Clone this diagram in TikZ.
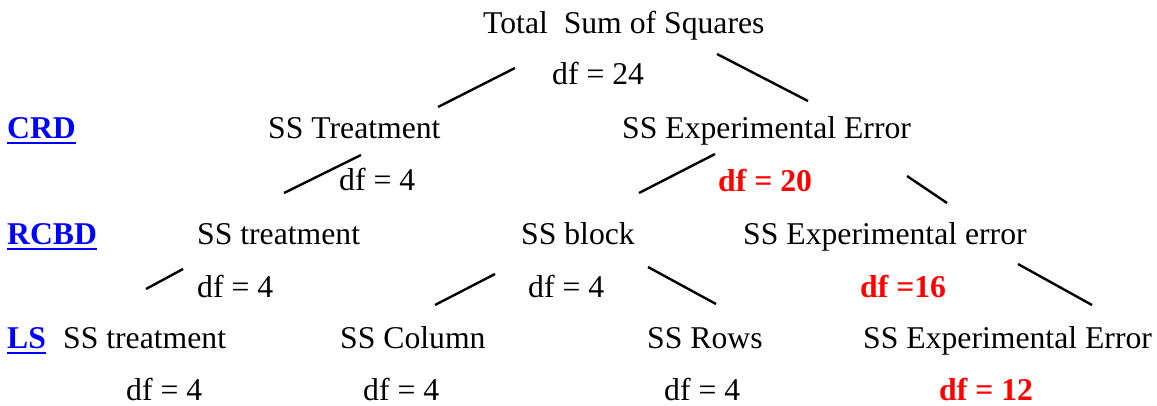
\documentclass[tikz,border=0pt]{standalone}
\usepackage{fontspec}
\setmainfont{Liberation Serif}
\usetikzlibrary{positioning}

\begin{document}
\begin{tikzpicture}[
	x=1pt, y=-1pt,
	every node/.style={inner sep=0pt, anchor=base west, font=\fontsize{31.7}{38}\selectfont},
	design/.style={text=blue, font=\fontsize{31.7}{38}\selectfont\bfseries},
	errdf/.style={text=red, font=\fontsize{31.7}{38}\selectfont\bfseries},
	branch/.style={line width=2.4pt, draw=black}
]
\useasboundingbox (0,0) rectangle (1157,405);
% total
\node (total) at (483,33) {Total\ \ Sum of Squares};
\node (dftotal) at (552,84) {df = 24};
% CRD
\node (crd) [design] at (7,138) {CRD};
\node (crdtrt) at (268,138) {SS Treatment};
\node (crderr) at (622,138) {SS Experimental Error};
\node (crddftrt) at (339,190) {df = 4};
\node (crddferr) [errdf] at (718,191) {df = 20};
% RCBD
\node (rcbd) [design] at (7,244) {RCBD};
\node (rcbdtrt) at (197,244) {SS treatment};
\node (rcbdblk) at (521,244) {SS block};
\node (rcbderr) at (743,244) {SS Experimental error};
\node (rcbddftrt) at (197,297) {df = 4};
\node (rcbddfblk) at (528,297) {df = 4};
\node (rcbddferr) [errdf] at (860,297) {df =16};
% LS
\node (ls) [design] at (7,348) {LS};
\node (lstrt) at (63,348) {SS treatment};
\node (lscol) at (340,348) {SS Column};
\node (lsrow) at (647,348) {SS Rows};
\node (lserr) at (863,348) {SS Experimental Error};
\node (lsdftrt) at (126,400) {df = 4};
\node (lsdfcol) at (363,400) {df = 4};
\node (lsdfrow) at (664,400) {df = 4};
\node (lsdferr) [errdf] at (939,400) {df = 12};
% underlined design names
\foreach \d in {crd,rcbd,ls}
	\draw [blue, line width=2.7pt] ([yshift=-5pt]\d.base west) -- ([yshift=-5pt]\d.base east);
% branch ends
\coordinate (trtA) at (438,107); \coordinate (trtB) at (515,68);
\coordinate (errA) at (717,54); \coordinate (errB) at (808,101);
\coordinate (rtrtA) at (284,193); \coordinate (rtrtB) at (361,155);
\coordinate (blkA) at (639,193); \coordinate (blkB) at (715,154);
\coordinate (rerrA) at (907,176); \coordinate (rerrB) at (947,203);
\coordinate (ltrtA) at (146,289); \coordinate (ltrtB) at (183,269);
\coordinate (colA) at (435,305); \coordinate (colB) at (495,274);
\coordinate (rowA) at (648,267); \coordinate (rowB) at (716,304);
\coordinate (lerrA) at (1018,264); \coordinate (lerrB) at (1092,305);
\foreach \b in {trt,err,rtrt,blk,rerr,ltrt,col,row,lerr}
	\draw [branch] (\b A) -- (\b B);
\end{tikzpicture}
\end{document}
